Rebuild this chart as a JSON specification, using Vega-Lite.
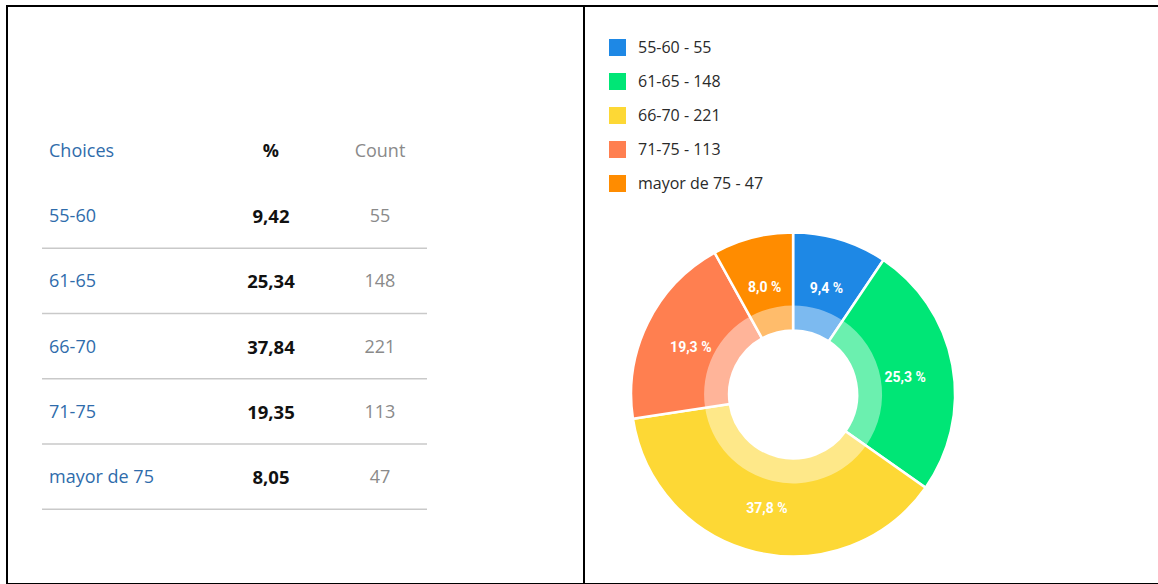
{
  "$schema": "https://vega.github.io/schema/vega-lite/v6.json",
  "background": "white",
  "padding": {"left": 6, "top": 5, "right": 0, "bottom": 0},
  "bounds": "flush",
  "spacing": 0,
  "datasets": {
    "rows": [
      {"choice": "55-60", "row": 1, "pct": "9,42", "count": 55, "pieLabel": "9,4 %", "legend": "55-60 - 55"},
      {"choice": "61-65", "row": 2, "pct": "25,34", "count": 148, "pieLabel": "25,3 %", "legend": "61-65 - 148"},
      {"choice": "66-70", "row": 3, "pct": "37,84", "count": 221, "pieLabel": "37,8 %", "legend": "66-70 - 221"},
      {"choice": "71-75", "row": 4, "pct": "19,35", "count": 113, "pieLabel": "19,3 %", "legend": "71-75 - 113"},
      {"choice": "mayor de 75", "row": 5, "pct": "8,05", "count": 47, "pieLabel": "8,0 %", "legend": "mayor de 75 - 47"}
    ],
    "header": [{"choices": "Choices", "pct": "%", "count": "Count", "row": 0}]
  },
  "hconcat": [
    {
      "width": 577,
      "height": 578,
      "layer": [
        {
          "data": {"name": "rows"},
          "mark": {"type": "rule", "color": "#c9c9c9", "strokeWidth": 1.5, "yOffset": 31},
          "encoding": {
            "x": {"datum": 6.07, "type": "quantitative", "scale": {"domain": [0, 100]}, "axis": null},
            "x2": {"datum": 72.79},
            "y": {"field": "row", "type": "quantitative", "scale": {"domain": [-2.233, 6.618], "reverse": true}, "axis": null}
          }
        },
        {
          "data": {"name": "header"},
          "mark": {"type": "text", "align": "left", "baseline": "middle", "font": "Open Sans", "fontSize": 18, "color": "#2f6cab"},
          "encoding": {
            "text": {"field": "choices"},
            "x": {"datum": 7.28, "type": "quantitative", "scale": {"domain": [0, 100]}, "axis": null},
            "y": {"field": "row", "type": "quantitative", "scale": {"domain": [-2.233, 6.618], "reverse": true}, "axis": null}
          }
        },
        {
          "data": {"name": "header"},
          "mark": {"type": "text", "align": "center", "baseline": "middle", "font": "Open Sans", "fontSize": 18, "fontWeight": "bold", "color": "#111111"},
          "encoding": {
            "text": {"field": "pct"},
            "x": {"datum": 45.75, "type": "quantitative", "scale": {"domain": [0, 100]}, "axis": null},
            "y": {"field": "row", "type": "quantitative", "scale": {"domain": [-2.233, 6.618], "reverse": true}, "axis": null}
          }
        },
        {
          "data": {"name": "header"},
          "mark": {"type": "text", "align": "center", "baseline": "middle", "font": "Open Sans", "fontSize": 18, "color": "#8a8a8a"},
          "encoding": {
            "text": {"field": "count"},
            "x": {"datum": 64.64, "type": "quantitative", "scale": {"domain": [0, 100]}, "axis": null},
            "y": {"field": "row", "type": "quantitative", "scale": {"domain": [-2.233, 6.618], "reverse": true}, "axis": null}
          }
        },
        {
          "data": {"name": "rows"},
          "mark": {"type": "text", "align": "left", "baseline": "middle", "font": "Open Sans", "fontSize": 18, "color": "#2f6cab"},
          "encoding": {
            "text": {"field": "choice"},
            "x": {"datum": 7.28, "type": "quantitative", "scale": {"domain": [0, 100]}, "axis": null},
            "y": {"field": "row", "type": "quantitative", "scale": {"domain": [-2.233, 6.618], "reverse": true}, "axis": null}
          }
        },
        {
          "data": {"name": "rows"},
          "mark": {"type": "text", "align": "center", "baseline": "middle", "font": "Open Sans", "fontSize": 18.5, "fontWeight": "bold", "color": "#111111"},
          "encoding": {
            "text": {"field": "pct"},
            "x": {"datum": 45.75, "type": "quantitative", "scale": {"domain": [0, 100]}, "axis": null},
            "y": {"field": "row", "type": "quantitative", "scale": {"domain": [-2.233, 6.618], "reverse": true}, "axis": null}
          }
        },
        {
          "data": {"name": "rows"},
          "mark": {"type": "text", "align": "center", "baseline": "middle", "font": "Open Sans", "fontSize": 18, "color": "#8a8a8a"},
          "encoding": {
            "text": {"field": "count"},
            "x": {"datum": 64.64, "type": "quantitative", "scale": {"domain": [0, 100]}, "axis": null},
            "y": {"field": "row", "type": "quantitative", "scale": {"domain": [-2.233, 6.618], "reverse": true}, "axis": null}
          }
        }
      ]
    },
    {
      "width": 576,
      "height": 578,
      "data": {"name": "rows"},
      "encoding": {
        "theta": {"field": "count", "type": "quantitative", "stack": true},
        "order": {"field": "row", "type": "quantitative"},
        "x": {"datum": 36.3, "type": "quantitative", "scale": {"domain": [0, 100]}, "axis": null},
        "y": {"datum": 67.2, "type": "quantitative", "scale": {"domain": [0, 100], "reverse": true}, "axis": null}
      },
      "layer": [
        {
          "mark": {"type": "arc", "radius": 162, "radius2": 64, "stroke": "white", "strokeWidth": 2.5},
          "encoding": {
            "color": {
              "field": "legend",
              "type": "nominal",
              "scale": {
                "domain": ["55-60 - 55", "61-65 - 148", "66-70 - 221", "71-75 - 113", "mayor de 75 - 47"],
                "range": ["#1e88e5", "#00e676", "#fdd835", "#ff7f50", "#ff8c00"]
              },
              "legend": {
                "orient": "none",
                "legendX": 602,
                "legendY": 33,
                "title": null,
                "symbolType": "square",
                "symbolSize": 289,
                "symbolStrokeWidth": 0,
                "symbolOpacity": 1,
                "labelFont": "Open Sans",
                "labelFontSize": 16,
                "labelColor": "#2a2a2a",
                "labelOffset": 12,
                "rowPadding": 17,
                "padding": 0
              }
            }
          }
        },
        {
          "mark": {"type": "arc", "radius": 89, "radius2": 64.5, "fill": "white", "fillOpacity": 0.42, "strokeWidth": 0}
        },
        {
          "mark": {"type": "text", "radius": 114, "dy": 4, "align": "center", "baseline": "middle", "font": "Roboto", "fontSize": 14, "fontWeight": "bold", "fill": "white"},
          "encoding": {
            "text": {"field": "pieLabel"}
          }
        }
      ]
    }
  ],
  "config": {
    "view": {"stroke": "#000000", "strokeWidth": 2}
  }
}
